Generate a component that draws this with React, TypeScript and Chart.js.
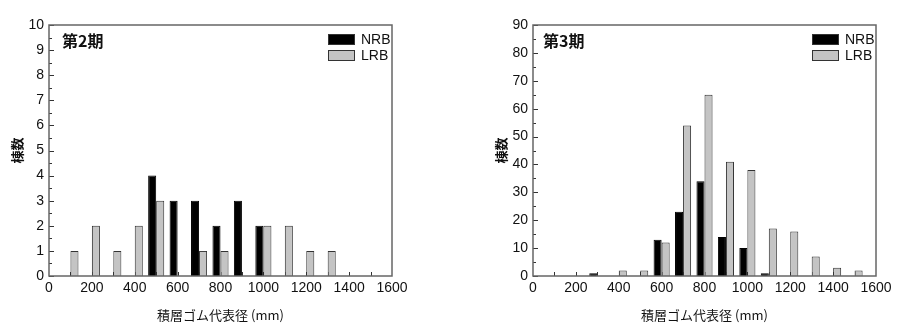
import React, { useEffect, useRef } from "react";
import { Chart, registerables } from "chart.js";
Chart.register(...registerables);

// ---- data ----
const sizes = [100, 200, 300, 400, 500, 600, 700, 800, 900, 1000, 1100, 1200, 1300, 1400, 1500];
const xTickValues = [0, 200, 400, 600, 800, 1000, 1200, 1400, 1600];
const period2Label = "第2期";
const period2NRB = [0, 0, 0, 0, 4, 3, 3, 2, 3, 2, 0, 0, 0, 0, 0];
const period2LRB = [1, 2, 1, 2, 3, 0, 1, 1, 0, 2, 2, 1, 1, 0, 0];
const period2YMax = 10;
const period2YStep = 1;
const period3Label = "第3期";
const period3NRB = [0, 0, 1, 0, 0, 13, 23, 34, 14, 10, 1, 0, 0, 0, 0];
const period3LRB = [0, 0, 0, 2, 2, 12, 54, 65, 41, 38, 17, 16, 7, 3, 2];
const period3YMax = 90;
const period3YStep = 10;
const xTitle = "積層ゴム代表径 (mm)";
const yTitle = "棟数";
const seriesNames = ["NRB", "LRB"];

const LATIN = "'Liberation Sans Narrow', 'Liberation Sans', 'Noto Sans CJK JP', sans-serif";
const CJK = "'Noto Sans CJK JP', 'Liberation Sans', sans-serif";
const TXT = "#111";

type Cfg = {
  label: string;
  nrb: number[];
  lrb: number[];
  yMax: number;
  yStep: number;
  padLeft: number;
  yWidth: number;
  padRight: number;
  titlePad: number;
  labelOffset: number;
};

const decor = {
  id: "decor",
  beforeDatasetsDraw(chart: any, _a: any, opts: any) {
    const { ctx, chartArea: a } = chart;
    const xs = chart.scales.x;
    const ys = chart.scales.y;
    ctx.save();
    ctx.strokeStyle = "#333";
    ctx.lineWidth = 1;
    for (const v of sizes) {
      const px = Math.round(xs.getPixelForValue(v)) + 0.5;
      ctx.beginPath();
      ctx.moveTo(px, a.bottom);
      ctx.lineTo(px, a.bottom - 4);
      ctx.stroke();
    }
    const half = opts.yStep / 2;
    for (let v = 0; v <= opts.yMax + 1e-9; v += half) {
      const py = Math.round(ys.getPixelForValue(v)) + 0.5;
      const major = Math.abs(v / opts.yStep - Math.round(v / opts.yStep)) < 1e-6;
      ctx.beginPath();
      ctx.moveTo(a.left, py);
      ctx.lineTo(a.left + (major ? 5 : 3), py);
      ctx.stroke();
    }
    ctx.restore();
  },
  afterDatasetsDraw(chart: any, _a: any, opts: any) {
    const { ctx, chartArea: a } = chart;
    ctx.save();
    ctx.strokeStyle = "#666";
    ctx.lineWidth = 1.5;
    ctx.strokeRect(a.left, a.top, a.right - a.left, a.bottom - a.top);
    ctx.fillStyle = TXT;
    ctx.font = `bold 16px ${CJK}`;
    ctx.textBaseline = "middle";
    ctx.textAlign = "left";
    ctx.fillText(opts.label, a.left + opts.labelOffset, a.top + 16);
    const ds = chart.data.datasets;
    ds.forEach((d: any, i: number) => {
      const bx = a.right - 64;
      const by = a.top + 9 + i * 16;
      ctx.fillStyle = d.backgroundColor;
      ctx.fillRect(bx, by, 27, 11);
      ctx.strokeStyle = "#333";
      ctx.lineWidth = 1;
      ctx.strokeRect(bx + 0.5, by + 0.5, 26, 10);
      ctx.fillStyle = TXT;
      ctx.font = `14px ${LATIN}`;
      ctx.textAlign = "left";
      ctx.textBaseline = "middle";
      ctx.fillText(d.label, bx + 33, by + 6);
    });
    ctx.restore();
  },
};

function HistChart({ cfg }: { cfg: Cfg }) {
  const ref = useRef<HTMLCanvasElement | null>(null);
  useEffect(() => {
    if (!ref.current) return;
    const chart = new Chart(ref.current, {
      type: "bar",
      data: {
        datasets: [
          {
            label: seriesNames[0],
            data: sizes.map((x, i) => ({ x, y: cfg.nrb[i] || null })) as any,
            backgroundColor: "#000000",
            borderColor: "#000000",
            borderWidth: 1,
          },
          {
            label: seriesNames[1],
            data: sizes.map((x, i) => ({ x, y: cfg.lrb[i] || null })) as any,
            backgroundColor: "#c4c4c4",
            borderColor: "#333333",
            borderWidth: 1,
          },
        ],
      },
      options: {
        animation: false,
        responsive: false,
        events: [],
        categoryPercentage: 0.75,
        barPercentage: 1.0,
        layout: { padding: { left: cfg.padLeft, right: cfg.padRight, top: 25, bottom: 0 } },
        plugins: {
          legend: { display: false },
          tooltip: { enabled: false },
          decor: { label: cfg.label, yMax: cfg.yMax, yStep: cfg.yStep, labelOffset: cfg.labelOffset },
        } as any,
        scales: {
          x: {
            type: "linear",
            offset: false,
            min: 0,
            max: 1600,
            grid: { display: false, drawTicks: false, offset: false },
            border: { display: false },
            afterBuildTicks: (s: any) => {
              s.ticks = xTickValues.map((v) => ({ value: v }));
            },
            afterFit: (s: any) => {
              s.height = 47;
            },
            ticks: {
              autoSkip: false,
              maxRotation: 0,
              padding: 4,
              color: TXT,
              font: { family: LATIN, size: 14 },
              callback: (v: any) => String(v),
            },
            title: {
              display: true,
              text: xTitle,
              color: TXT,
              font: { family: CJK, size: 13 },
              padding: { top: 7, bottom: 0 },
            },
          },
          y: {
            min: 0,
            max: cfg.yMax,
            grid: { display: false, drawTicks: false },
            border: { display: false },
            afterFit: (s: any) => {
              s.width = cfg.yWidth;
            },
            ticks: {
              stepSize: cfg.yStep,
              padding: 5,
              color: TXT,
              font: { family: LATIN, size: 14 },
            },
            title: {
              display: true,
              text: yTitle,
              color: TXT,
              font: { family: CJK, size: 13, weight: "bold" },
              padding: { top: cfg.titlePad, bottom: 0 },
            },
          },
        },
      },
      plugins: [decor],
    });
    return () => chart.destroy();
  }, [cfg]);
  return <canvas ref={ref} width={450} height={323} style={{ display: "block", width: 450, height: 323 }} />;
}

const cfg2: Cfg = {
  label: period2Label,
  nrb: period2NRB,
  lrb: period2LRB,
  yMax: period2YMax,
  yStep: period2YStep,
  padLeft: 0,
  yWidth: 49,
  padRight: 58,
  titlePad: 9,
  labelOffset: 13,
};
const cfg3: Cfg = {
  label: period3Label,
  nrb: period3NRB,
  lrb: period3LRB,
  yMax: period3YMax,
  yStep: period3YStep,
  padLeft: 36,
  yWidth: 47,
  padRight: 24,
  titlePad: 7,
  labelOffset: 10,
};

export default function App() {
  return (
    <div style={{ position: "fixed", left: 0, top: 0, width: 900, height: 323, display: "flex", background: "#fff" }}>
      <HistChart cfg={cfg2} />
      <HistChart cfg={cfg3} />
    </div>
  );
}
